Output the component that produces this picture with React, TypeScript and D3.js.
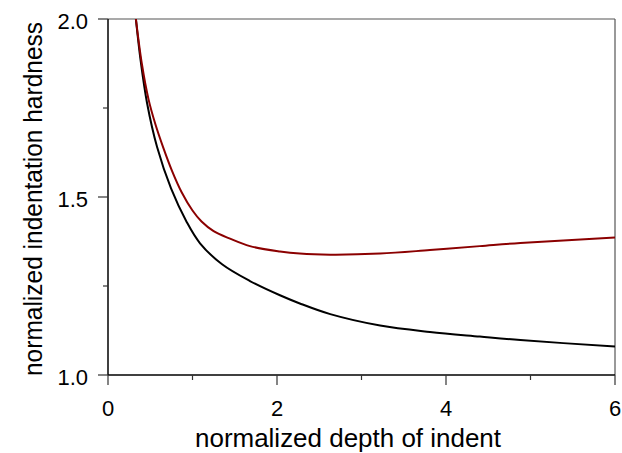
import React, { useEffect, useRef } from "react";
import * as d3 from "d3";

// values
const blackX = [0.33, 0.385, 0.462, 0.58, 0.746, 0.931, 1.089, 1.35, 1.68, 2.035, 2.27, 2.63, 3.22, 3.81, 4.4, 4.88, 6.0];
const blackY = [2.0, 1.885, 1.764, 1.641, 1.524, 1.43, 1.37, 1.311, 1.264, 1.224, 1.201, 1.171, 1.139, 1.121, 1.108, 1.098, 1.08];

const redX = [0.33, 0.4, 0.479, 0.56, 0.655, 0.76, 0.87, 1.0, 1.107, 1.25, 1.444, 1.68, 2.035, 2.27, 2.63, 3.22, 3.81, 4.4, 4.88, 6.0];
const redY = [2.0, 1.875, 1.775, 1.705, 1.638, 1.572, 1.514, 1.462, 1.431, 1.404, 1.383, 1.362, 1.347, 1.341, 1.338, 1.341, 1.351, 1.362, 1.371, 1.386];

const xTicks = [0, 2, 4, 6];
const xMinor = [1, 3, 5];
const yTicks = [1.0, 1.5, 2.0];
const yMinor = [1.25, 1.75];

const W = 622;
const H = 453;
const left = 108;
const right = 615;
const top = 19;
const bottom = 375;

const App = () => {
  const ref = useRef<SVGSVGElement>(null);

  useEffect(() => {
    const svg = d3.select(ref.current);
    svg.selectAll("*").remove();

    const x = d3.scaleLinear().domain([0, 6]).range([left, right]);
    const y = d3.scaleLinear().domain([1, 2]).range([bottom, top]);

    const font = "Liberation Sans, Arial, sans-serif";

    // frame: top and right in grey
    svg.append("line").attr("x1", left).attr("x2", right).attr("y1", top).attr("y2", top)
      .attr("stroke", "#555").attr("stroke-width", 1.2);
    svg.append("line").attr("x1", right).attr("x2", right).attr("y1", top).attr("y2", bottom)
      .attr("stroke", "#555").attr("stroke-width", 1.2);

    // clip so curves stop at the top
    svg.append("clipPath").attr("id", "plot-clip")
      .append("rect").attr("x", left).attr("y", top).attr("width", right - left).attr("height", bottom - top);

    const line = d3.line<[number, number]>()
      .x((d) => x(d[0]))
      .y((d) => y(d[1]))
      .curve(d3.curveCatmullRom.alpha(0.5));

    const g = svg.append("g").attr("clip-path", "url(#plot-clip)");
    g.append("path")
      .datum(blackX.map((v, i) => [v, blackY[i]] as [number, number]))
      .attr("d", line)
      .attr("fill", "none")
      .attr("stroke", "#000")
      .attr("stroke-width", 2);
    g.append("path")
      .datum(redX.map((v, i) => [v, redY[i]] as [number, number]))
      .attr("d", line)
      .attr("fill", "none")
      .attr("stroke", "#8b0000")
      .attr("stroke-width", 2);

    // axes
    svg.append("line").attr("x1", left).attr("x2", left).attr("y1", top).attr("y2", bottom)
      .attr("stroke", "#000").attr("stroke-width", 1.5);
    svg.append("line").attr("x1", left).attr("x2", right).attr("y1", bottom).attr("y2", bottom)
      .attr("stroke", "#000").attr("stroke-width", 1.5);

    // x ticks
    svg.selectAll(".xt").data(xTicks).enter().append("line")
      .attr("x1", (d) => x(d)).attr("x2", (d) => x(d))
      .attr("y1", bottom).attr("y2", bottom + 10)
      .attr("stroke", "#333").attr("stroke-width", 1.2);
    svg.selectAll(".xm").data(xMinor).enter().append("line")
      .attr("x1", (d) => x(d)).attr("x2", (d) => x(d))
      .attr("y1", bottom).attr("y2", bottom + 5)
      .attr("stroke", "#333").attr("stroke-width", 1.2);
    svg.selectAll(".xl").data(xTicks).enter().append("text")
      .attr("x", (d) => x(d)).attr("y", 415.5)
      .attr("text-anchor", "middle")
      .attr("font-family", font).attr("font-size", 22)
      .text((d) => d3.format("d")(d));

    // y ticks
    svg.selectAll(".yt").data(yTicks).enter().append("line")
      .attr("x1", left - 10).attr("x2", left)
      .attr("y1", (d) => y(d)).attr("y2", (d) => y(d))
      .attr("stroke", "#333").attr("stroke-width", 1.2);
    svg.selectAll(".ym").data(yMinor).enter().append("line")
      .attr("x1", left - 5).attr("x2", left)
      .attr("y1", (d) => y(d)).attr("y2", (d) => y(d))
      .attr("stroke", "#333").attr("stroke-width", 1.2);
    svg.selectAll(".yl").data(yTicks).enter().append("text")
      .attr("x", 88).attr("y", (d) => y(d) + 9.8)
      .attr("text-anchor", "end")
      .attr("font-family", font).attr("font-size", 22)
      .text((d) => d3.format(".1f")(d));

    // axis titles
    svg.append("text")
      .attr("x", 195).attr("y", 446.5)
      .attr("font-family", font).attr("font-size", 26)
      .attr("textLength", 306).attr("lengthAdjust", "spacingAndGlyphs")
      .text("normalized depth of indent");
    svg.append("text")
      .attr("transform", "translate(42, 199) rotate(-90)")
      .attr("text-anchor", "middle")
      .attr("font-family", font).attr("font-size", 26)
      .attr("textLength", 354).attr("lengthAdjust", "spacingAndGlyphs")
      .text("normalized indentation hardness");
  }, []);

  return (
    <svg
      ref={ref}
      width={W}
      height={H}
      style={{ position: "absolute", left: 0, top: 0, background: "#fff" }}
    />
  );
};

export default App;
